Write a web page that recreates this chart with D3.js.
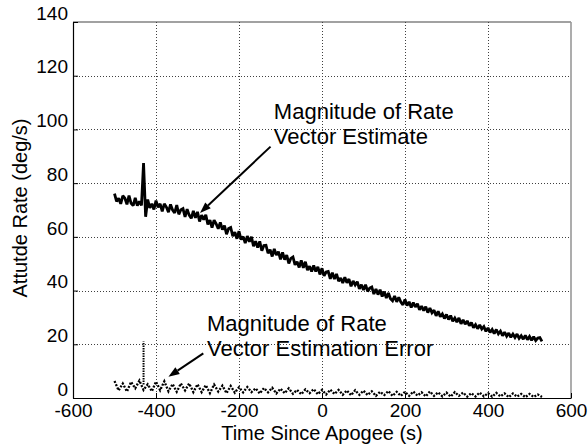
<!DOCTYPE html>
<html>
<head>
<meta charset="utf-8">
<script src="https://cdn.jsdelivr.net/npm/d3@7/dist/d3.min.js"></script>
<style>
  html, body { margin: 0; padding: 0; background: #fff; }
  svg { display: block; }
  text { font-family: Arial, "Liberation Sans", Helvetica, sans-serif; fill: #000; }
</style>
</head>
<body>
<svg id="chart" width="588" height="444"></svg>
<script>
// ---------- data ----------
const xTicks = [-600, -400, -200, 0, 200, 400, 600];
const yTicks = [0, 20, 40, 60, 80, 100, 120, 140];

// Magnitude of rate vector estimate, sampled every 5 s from -500 s
const rateStart = -500, rateStep = 5;
const rateValues = [
  76.1, 73.2, 74.4, 72.3, 75.3, 74.4, 72.1, 75.4, 72.5, 71.6,
  74.5, 71.6, 73.2, 71.7, 87.5, 67.5, 73.9, 70.8, 72.3, 70.2,
  73.5, 71.0, 72.3, 69.5, 72.3, 71.1, 69.2, 72.1, 70.0, 68.9,
  71.8, 68.4, 70.1, 70.5, 67.4, 70.3, 68.1, 66.9, 69.7, 67.1,
  69.3, 65.7, 68.1, 66.4, 68.2, 64.6, 66.2, 63.4, 66.2, 64.8,
  63.0, 65.4, 62.7, 64.2, 61.0, 63.1, 63.5, 60.3, 61.7, 59.3,
  62.1, 59.0, 60.1, 57.7, 60.3, 58.2, 60.0, 56.5, 58.4, 56.0,
  58.3, 54.8, 56.8, 56.9, 53.9, 55.2, 52.7, 55.5, 53.2, 54.5,
  51.6, 54.2, 51.5, 53.2, 50.1, 52.0, 52.5, 49.6, 50.7, 48.6,
  51.2, 48.5, 50.7, 47.6, 49.1, 47.1, 49.4, 47.1, 48.8, 46.0,
  48.3, 45.5, 46.9, 47.1, 44.4, 46.7, 44.3, 46.2, 43.5, 44.7,
  42.8, 45.0, 42.9, 44.3, 41.6, 43.6, 42.1, 43.3, 40.6, 42.2,
  40.2, 42.2, 39.7, 40.9, 41.3, 38.7, 40.6, 38.5, 40.3, 37.8,
  39.6, 37.2, 39.1, 37.0, 36.2, 38.0, 35.8, 37.5, 35.7, 34.7,
  36.7, 34.4, 35.8, 33.7, 35.5, 33.9, 35.1, 32.8, 34.2, 32.5,
  34.0, 31.8, 33.5, 31.7, 32.7, 30.6, 32.3, 30.3, 31.3, 29.6,
  31.1, 29.2, 30.7, 28.6, 29.8, 28.3, 29.8, 27.6, 29.1, 27.5,
  28.7, 26.9, 28.1, 26.2, 27.3, 25.8, 27.2, 25.7, 26.6, 24.8,
  26.1, 24.4, 25.5, 24.0, 25.5, 23.9, 24.9, 23.2, 24.5, 23.0,
  24.2, 22.6, 23.8, 22.5, 23.8, 22.2, 23.2, 21.9, 23.3, 21.7,
  22.9, 21.5, 22.8, 21.4, 22.3, 22.5, 21.1
];

// Magnitude of rate vector estimation error, sampled every 10 s from -500 s
const errStart = -500, errStep = 10;
const errValues = [
  6.3, 2.8, 5.4, 2.4, 6.0, 3.6, 6.5, 3.0, 5.1, 2.5,
  6.1, 2.9, 6.2, 2.5, 5.2, 2.3, 5.4, 2.8, 5.4, 2.2,
  5.1, 2.2, 4.8, 1.8, 5.0, 2.4, 4.6, 1.8, 4.5, 2.0,
  4.0, 2.1, 4.1, 2.2, 3.6, 1.7, 3.7, 2.1, 3.8, 1.7,
  3.5, 1.8, 3.6, 1.6, 3.0, 1.4, 3.2, 1.8, 3.3, 1.4,
  3.0, 1.3, 3.1, 1.5, 3.0, 1.2, 2.8, 1.0, 2.9, 1.2,
  2.7, 1.1, 2.5, 0.8, 2.3, 1.1, 2.6, 0.8, 2.3, 0.8,
  2.3, 0.8, 2.4, 0.9, 2.1, 0.6, 2.4, 0.8, 2.1, 0.6,
  2.0, 0.5, 2.2, 0.8, 2.0, 0.5, 1.8, 0.6, 2.0, 0.6,
  1.8, 0.5, 1.9, 0.6, 1.7, 0.3, 1.7, 0.5, 1.5, 0.3,
  1.5, 0.4, 1.3, 0.4
];
// spike in the error trace: [time, low, high]
const errSpike = [-430, 5, 21];

// annotations (data coordinates)
const labels = [
  { lines: ["Magnitude of Rate", "Vector Estimate"], x: -116, y: 104 },
  { lines: ["Magnitude of Rate", "Vector Estimation Error"], x: -277, y: 25 }
];
const arrows = [
  { from: [-124, 93.6], to: [-294, 68.9] },
  { from: [-286, 16.6], to: [-370, 7.9] }
];

// ---------- layout ----------
const W = 588, H = 444;
const margin = { left: 73, right: 17, top: 22, bottom: 46 };
const svg = d3.select("#chart");

const x = d3.scaleLinear().domain([-600, 600]).range([margin.left, W - margin.right]);
const y = d3.scaleLinear().domain([0, 140]).range([H - margin.bottom, margin.top]);
const fmt = d => String(d);

// grid
const grid = svg.append("g").attr("stroke", "#000").attr("stroke-width", 1)
  .attr("stroke-dasharray", "1,2").attr("opacity", 0.75);
grid.selectAll(".gx").data(xTicks.slice(1, -1)).join("line")
  .attr("x1", d => Math.round(x(d)) + 0.5).attr("x2", d => Math.round(x(d)) + 0.5)
  .attr("y1", y(0)).attr("y2", y(140));
grid.selectAll(".gy").data(yTicks.slice(1, -1)).join("line")
  .attr("y1", d => Math.round(y(d)) + 0.5).attr("y2", d => Math.round(y(d)) + 0.5)
  .attr("x1", x(-600)).attr("x2", x(600));

// data lines
const rateData = rateValues.map((v, i) => [rateStart + i * rateStep, v]);
const errData = errValues.map((v, i) => [errStart + i * errStep, v]);
const line = d3.line().x(d => x(d[0])).y(d => y(d[1]));

svg.append("path").datum(errData).attr("d", line)
  .attr("fill", "none").attr("stroke", "#000").attr("stroke-width", 2.3)
  .attr("stroke-dasharray", "2,1.5");
svg.append("line")
  .attr("x1", x(errSpike[0])).attr("x2", x(errSpike[0]))
  .attr("y1", y(errSpike[1])).attr("y2", y(errSpike[2]))
  .attr("stroke", "#000").attr("stroke-width", 2).attr("stroke-dasharray", "1.5,1");

svg.append("path").datum(rateData).attr("d", line)
  .attr("fill", "none").attr("stroke", "#000").attr("stroke-width", 2.8)
  .attr("stroke-linejoin", "miter").attr("stroke-miterlimit", 2);

// axes frame
const fr = svg.append("g").attr("fill", "none");
fr.append("line").attr("x1", x(-600)).attr("x2", x(600)).attr("y1", y(140)).attr("y2", y(140))
  .attr("stroke", "#444").attr("stroke-width", 1.2);
fr.append("line").attr("x1", x(600)).attr("x2", x(600)).attr("y1", y(140)).attr("y2", y(0))
  .attr("stroke", "#999").attr("stroke-width", 1.6);

const xAxis = d3.axisBottom(x).tickValues(xTicks).tickFormat(fmt)
  .tickSizeInner(-5).tickSizeOuter(0).tickPadding(8);
const gx = svg.append("g").attr("transform", `translate(0,${y(0)})`).call(xAxis);
gx.select(".domain").attr("stroke", "#000").attr("stroke-width", 1.2);
gx.selectAll(".tick line").attr("stroke", "#000");
gx.selectAll(".tick text").attr("font-size", 19).attr("dy", "0.71em").attr("y", 6)
  .attr("font-family", "Arial, 'Liberation Sans', sans-serif");

const yAxis = d3.axisLeft(y).tickValues(yTicks).tickFormat(fmt)
  .tickSizeInner(-5).tickSizeOuter(0).tickPadding(5);
const gy = svg.append("g").attr("transform", `translate(${x(-600)},0)`).call(yAxis);
gy.select(".domain").attr("stroke", "#000").attr("stroke-width", 1.2);
gy.selectAll(".tick line").attr("stroke", "#000");
gy.selectAll(".tick text").attr("font-size", 19).attr("x", -5).attr("dy", "-0.15em")
  .attr("font-family", "Arial, 'Liberation Sans', sans-serif");

// axis titles
svg.append("text").attr("x", (x(-600) + x(600)) / 2).attr("y", 440)
  .attr("text-anchor", "middle").attr("font-size", 20).text("Time Since Apogee (s)");
svg.append("text").attr("transform", `translate(27,${(y(0) + y(140)) / 2 - 2}) rotate(-90)`)
  .attr("text-anchor", "middle").attr("font-size", 20).text("Attutde Rate (deg/s)");

// annotations
labels.forEach(l => {
  const t = svg.append("text").attr("x", x(l.x)).attr("y", y(l.y)).attr("font-size", 22);
  l.lines.forEach((s, i) => t.append("tspan").attr("x", x(l.x)).attr("dy", i === 0 ? 0 : 25).text(s));
});
arrows.forEach(a => {
  const x1 = x(a.from[0]), y1 = y(a.from[1]), x2 = x(a.to[0]), y2 = y(a.to[1]);
  const ang = Math.atan2(y2 - y1, x2 - x1);
  const L = 11, Wd = 4;
  const bx = x2 - L * Math.cos(ang), by = y2 - L * Math.sin(ang);
  svg.append("line").attr("x1", x1).attr("y1", y1).attr("x2", bx).attr("y2", by)
    .attr("stroke", "#000").attr("stroke-width", 2);
  const px = -Math.sin(ang) * Wd, py = Math.cos(ang) * Wd;
  svg.append("path")
    .attr("d", `M${x2},${y2}L${bx + px},${by + py}L${bx - px},${by - py}Z`)
    .attr("fill", "#000");
});
</script>
</body>
</html>
